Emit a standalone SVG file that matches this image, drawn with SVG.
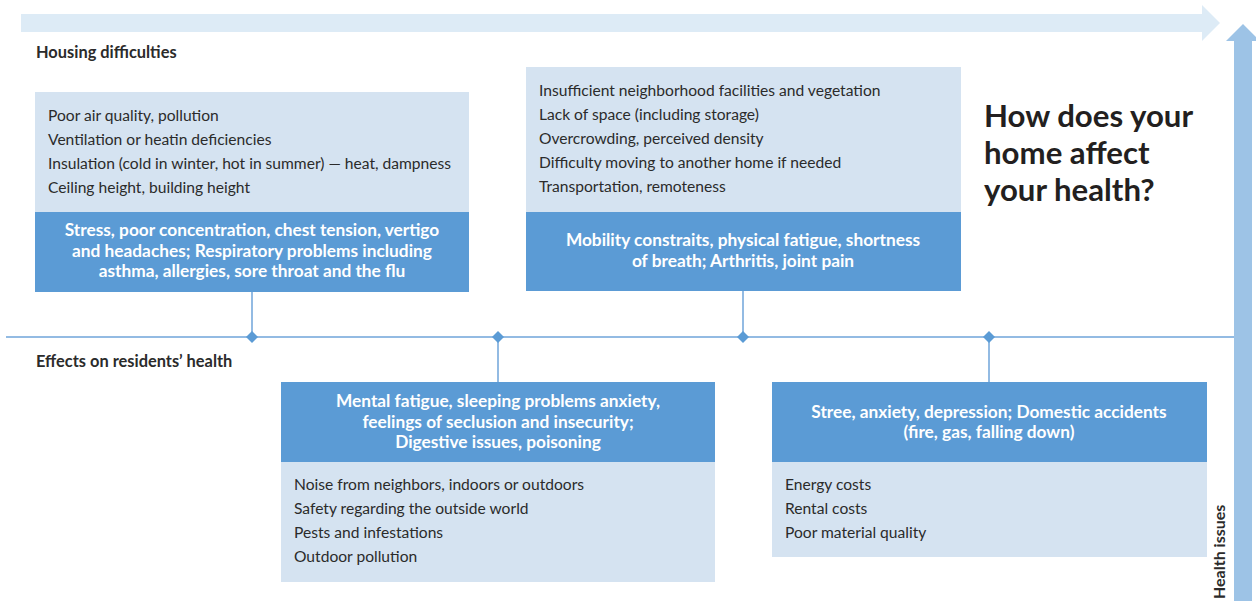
<svg xmlns="http://www.w3.org/2000/svg" width="1256" height="601" viewBox="0 0 1256 601">
<style>
.light{fill:#D5E3F1}
.dark{fill:#5B9BD5}
.t{font-family:Lato,"Open Sans","Liberation Sans",sans-serif;font-size:15.6px;fill:#2b2b2b}
.w{font-family:Lato,"Open Sans","Liberation Sans",sans-serif;font-size:17.3px;font-weight:bold;fill:#ffffff;text-anchor:middle}
.h{font-family:Lato,"Open Sans","Liberation Sans",sans-serif;font-size:16.4px;font-weight:bold;fill:#2b2b2b}
.title{font-family:Lato,"Open Sans","Liberation Sans",sans-serif;font-size:31.2px;font-weight:bold;fill:#231f20}
.conn{stroke:#6FA5DA;stroke-width:1.5;fill:none}
.dia{fill:#5B9BD5}
</style>
<rect width="1256" height="601" fill="#ffffff"/>
<g id="axes">
<polygon points="21,14 1202,14 1202,5 1220,23 1202,41 1202,32 21,32" fill="#DDEBF6"/>
<polygon points="1234,601 1234,41 1226,41 1243,24 1260,41 1252,41 1252,601" fill="#9DC3E6"/>
<text class="h" style="font-size:16px" transform="translate(1225,599) rotate(-90)">Health issues</text>
</g>
<g id="labels">
<text class="h" x="36" y="58">Housing difficulties</text>
<text class="h" x="36" y="367">Effects on residents’ health</text>
<text class="title" x="984" y="127">How does your</text>
<text class="title" x="984" y="164">home affect</text>
<text class="title" x="984" y="201">your health?</text>
</g>
<g id="connectors">
<line class="conn" x1="6" y1="337" x2="1234" y2="337"/>
<line class="conn" x1="252" y1="292" x2="252" y2="337"/>
<line class="conn" x1="743" y1="291" x2="743" y2="337"/>
<line class="conn" x1="498" y1="337" x2="498" y2="382"/>
<line class="conn" x1="989" y1="337" x2="989" y2="382"/>
<polygon class="dia" points="252,331 258,337 252,343 246,337"/>
<polygon class="dia" points="498,331 504,337 498,343 492,337"/>
<polygon class="dia" points="743,331 749,337 743,343 737,337"/>
<polygon class="dia" points="989,331 995,337 989,343 983,337"/>
</g>
<g id="node1">
<rect class="light" x="35" y="92" width="434" height="120"/>
<rect class="dark" x="35" y="212" width="434" height="80"/>
<text class="t" x="48" y="121">Poor air quality, pollution</text>
<text class="t" x="48" y="145">Ventilation or heatin deficiencies</text>
<text class="t" x="48" y="169">Insulation (cold in winter, hot in summer) — heat, dampness</text>
<text class="t" x="48" y="193">Ceiling height, building height</text>
<text class="w" x="252" y="236">Stress, poor concentration, chest tension, vertigo</text>
<text class="w" x="252" y="257">and headaches; Respiratory problems including</text>
<text class="w" x="252" y="277">asthma, allergies, sore throat and the flu</text>
</g>
<g id="node2">
<rect class="light" x="526" y="67" width="435" height="145"/>
<rect class="dark" x="526" y="212" width="435" height="79"/>
<text class="t" x="539" y="96">Insufficient neighborhood facilities and vegetation</text>
<text class="t" x="539" y="120">Lack of space (including storage)</text>
<text class="t" x="539" y="144">Overcrowding, perceived density</text>
<text class="t" x="539" y="168">Difficulty moving to another home if needed</text>
<text class="t" x="539" y="192">Transportation, remoteness</text>
<text class="w" x="743" y="246">Mobility constraits, physical fatigue, shortness</text>
<text class="w" x="743" y="267">of breath; Arthritis, joint pain</text>
</g>
<g id="node3">
<rect class="dark" x="281" y="382" width="434" height="80"/>
<rect class="light" x="281" y="462" width="434" height="120"/>
<text class="w" x="498" y="407">Mental fatigue, sleeping problems anxiety,</text>
<text class="w" x="498" y="428">feelings of seclusion and insecurity;</text>
<text class="w" x="498" y="448">Digestive issues, poisoning</text>
<text class="t" x="294" y="490">Noise from neighbors, indoors or outdoors</text>
<text class="t" x="294" y="514">Safety regarding the outside world</text>
<text class="t" x="294" y="538">Pests and infestations</text>
<text class="t" x="294" y="562">Outdoor pollution</text>
</g>
<g id="node4">
<rect class="dark" x="772" y="382" width="435" height="80"/>
<rect class="light" x="772" y="462" width="435" height="95"/>
<text class="w" x="989" y="418">Stree, anxiety, depression; Domestic accidents</text>
<text class="w" x="989" y="438">(fire, gas, falling down)</text>
<text class="t" x="785" y="490">Energy costs</text>
<text class="t" x="785" y="514">Rental costs</text>
<text class="t" x="785" y="538">Poor material quality</text>
</g>
</svg>
